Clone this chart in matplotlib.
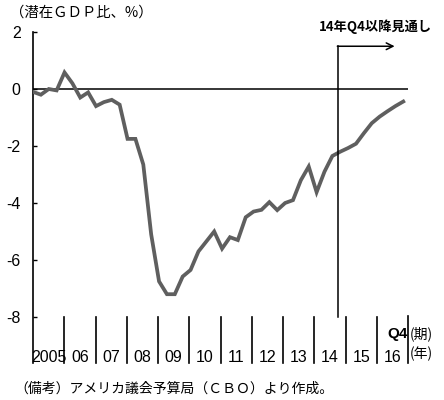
import numpy as np
import matplotlib
matplotlib.use("Agg")
from matplotlib import pyplot as plt
from matplotlib.transforms import blended_transform_factory

plt.rcParams['font.family'] = ['Noto Sans CJK JP', 'DejaVu Sans']
NUM_FONT = ['Liberation Sans', 'DejaVu Sans']

# potential GDP gap, 2005Q1 - 2016Q4 (quarterly)
gap = [-0.1, -0.2, 0.0, -0.05, 0.58, 0.2, -0.3, -0.12,
       -0.6, -0.46, -0.38, -0.55, -1.75, -1.75, -2.65, -5.1,
       -6.75, -7.2, -7.2, -6.58, -6.35, -5.7, -5.35, -5.0,
       -5.6, -5.2, -5.3, -4.5, -4.3, -4.24, -3.97, -4.25,
       -4.0, -3.9, -3.2, -2.72, -3.62, -2.9, -2.35, -2.2,
       -2.07, -1.92, -1.55, -1.2, -0.97, -0.78, -0.6, -0.44]
years = ['2005', '06', '07', '08', '09', '10', '11', '12', '13', '14', '15', '16']
yticks = [2, 0, -2, -4, -6, -8]
forecast_x = 38.7  # 14Q4

W, H = 444, 400
fig = plt.figure(figsize=(W / 100, H / 100), dpi=100)
ax = fig.add_axes([33 / W, 1 - 363 / H, 375 / W, 331 / H])

x = np.arange(len(gap))
ax.plot(x, gap, color='#5f5f5f', lw=2.7, solid_joinstyle='miter', zorder=3)
ax.set_xlim(0, 47.6)
ax.set_ylim(2 - 331 / 28.5, 2)

for s in ['top', 'right', 'bottom']:
    ax.spines[s].set_visible(False)
ax.spines['left'].set_linewidth(1.2)
ax.set_xticks([])
ax.set_yticks(yticks)
ax.set_yticklabels([str(v) for v in yticks])
ax.tick_params(axis='y', direction='in', length=3, width=1, pad=9, labelsize=11.5)
for lab in ax.get_yticklabels():
    lab.set_fontfamily(NUM_FONT)

ax.axhline(0, color='black', lw=1.1, zorder=2)

# year separators and labels below -8
tr = blended_transform_factory(ax.transAxes, ax.transData)
ybot = ax.get_ylim()[0]
for k in range(1, 13):
    top = -7.95 if k == 12 else -8.0
    ax.plot([k / 12, k / 12], [top, ybot], color='black', lw=1.2, transform=tr, clip_on=False)
for k, yr in enumerate(years):
    ax.text((k + 0.5) / 12, -9.42, yr, transform=tr, ha='center', va='center',
            fontsize=11.5, family=NUM_FONT)
ax.text(1.0, -8.58, 'Q4', transform=tr, ha='right', va='center',
        fontsize=11, fontweight='bold', family=NUM_FONT)
ax.text(1.005, -8.58, '(期)', transform=tr, ha='left', va='center', fontsize=10)
ax.text(1.005, -9.28, '(年)', transform=tr, ha='left', va='center', fontsize=10)

# forecast marker
ax.plot([forecast_x, forecast_x], [-8.0, 1.5], color='black', lw=1.1, zorder=4)
ax.annotate('', xy=(45.9, 1.5), xytext=(forecast_x - 0.07, 1.5),
            arrowprops=dict(arrowstyle='->', color='black', lw=1.1,
                            shrinkA=0, shrinkB=0, mutation_scale=12))
fig.text(375 / W, 1 - 27 / H, '14年Q4以降見通し', ha='center', va='center',
         fontsize=9.5, fontweight='bold')

fig.text(10 / W, 1 - 13 / H, '（潜在ＧＤＰ比、%）', ha='left', va='center', fontsize=10.4)
fig.text(14 / W, 1 - 389 / H, '（備考）アメリカ議会予算局（ＣＢＯ）より作成。',
         ha='left', va='center', fontsize=10)

fig.savefig('out.png', dpi=100)
